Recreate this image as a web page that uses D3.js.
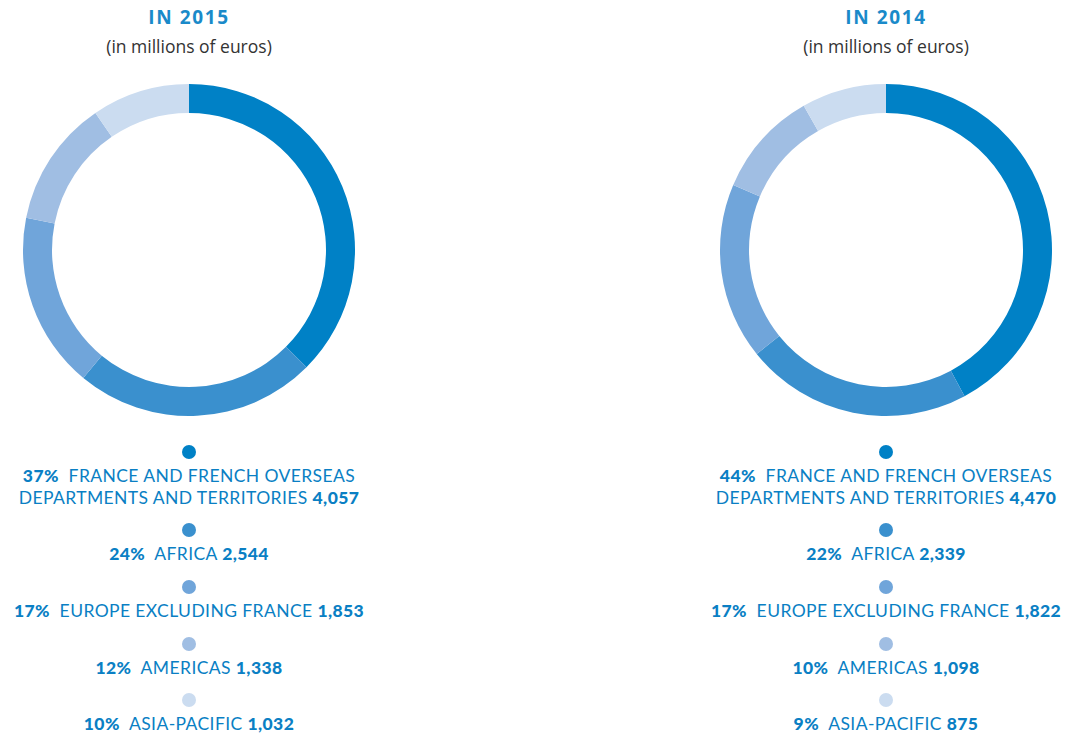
<!DOCTYPE html>
<html>
<head>
<meta charset="utf-8">
<script src="https://cdn.jsdelivr.net/npm/d3@7"></script>
<style>
  body { margin: 0; background: #fff; }
  text { font-family: Lato, "Open Sans", sans-serif; }
</style>
</head>
<body>
<div class="chart"></div>
<script>
// regions in the order they go round the ring
const regions = ["FRANCE AND FRENCH OVERSEAS DEPARTMENTS AND TERRITORIES", "AFRICA", "EUROPE EXCLUDING FRANCE", "AMERICAS", "ASIA-PACIFIC"];
const years = ["2015", "2014"];
const values2015 = [4057, 2544, 1853, 1338, 1032];
const values2014 = [4470, 2339, 1822, 1098, 875];
const pct2015 = ["37%", "24%", "17%", "12%", "10%"];
const pct2014 = ["44%", "22%", "17%", "10%", "9%"];
const colors = ["#0081c6", "#3a90ce", "#70a5da", "#a0bee3", "#cbdcf0"];

const W = 1069, H = 737;
const svg = d3.select("div.chart").append("svg")
  .attr("width", W)
  .attr("height", H);

const color = d3.scaleOrdinal().domain(regions).range(colors);
const fmt = d3.format(",");

const pie = d3.pie().sort(null).value(d => d.value);
const arc = d3.arc().innerRadius(137).outerRadius(166);

const panels = [
  {year: years[0], values: values2015, pct: pct2015, cx: 189},
  {year: years[1], values: values2014, pct: pct2014, cx: 886}
];

panels.forEach(function(p) {
  const g = svg.append("g").attr("transform", `translate(${p.cx},0)`);

  // titel
  g.append("text")
    .attr("y", 24)
    .attr("text-anchor", "middle")
    .style("font-family", "'Open Sans', sans-serif")
    .style("font-size", "19px")
    .style("font-weight", "bold")
    .style("letter-spacing", "1.6px")
    .style("fill", "#1a8ac9")
    .text("IN " + p.year);

  g.append("text")
    .attr("y", 53)
    .attr("text-anchor", "middle")
    .style("font-family", "'Open Sans', sans-serif")
    .style("font-size", "17.5px")
    .style("fill", "#333")
    .text("(in millions of euros)");

  const data = regions.map((r, i) => ({region: r, value: p.values[i], pct: p.pct[i]}));

  g.append("g")
    .attr("transform", "translate(0,250)")
    .selectAll("path")
    .data(pie(data))
    .enter()
    .append("path")
    .attr("d", arc)
    .attr("fill", d => color(d.data.region));

  // legend under the ring
  const rowY = [452, 530, 587, 644, 700];
  data.forEach(function(d, i) {
    g.append("circle")
      .attr("cy", rowY[i])
      .attr("r", 7)
      .attr("fill", color(d.region));

    let lines;
    if (i === 0) {
      lines = [
        [{t: d.pct, b: true}, {t: "\u00a0 FRANCE AND FRENCH OVERSEAS", b: false}],
        [{t: "DEPARTMENTS AND TERRITORIES ", b: false}, {t: fmt(d.value), b: true}]
      ];
    } else {
      lines = [[{t: d.pct, b: true}, {t: "\u00a0 " + d.region + " ", b: false}, {t: fmt(d.value), b: true}]];
    }

    lines.forEach(function(line, j) {
      const t = g.append("text")
        .attr("y", rowY[i] + 30 + j * 22)
        .attr("text-anchor", "middle")
        .style("font-size", "17.5px")
        .style("letter-spacing", "0.4px")
        .style("fill", "#0a7fc4");
      line.forEach(function(s) {
        t.append("tspan")
          .style("font-weight", s.b ? "900" : "normal")
          .text(s.t);
      });
    });
  });
});
</script>
</body>
</html>
